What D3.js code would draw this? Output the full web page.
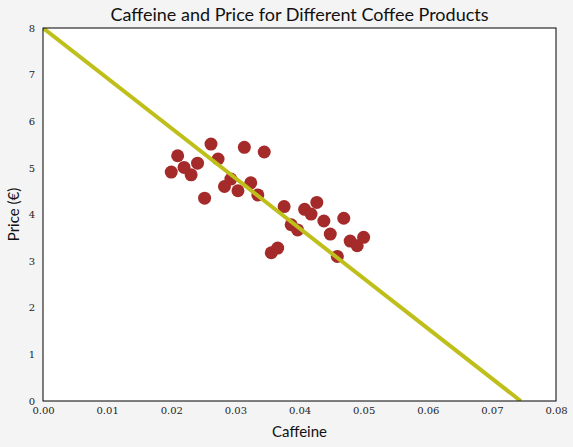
<!DOCTYPE html><html><head><meta charset="utf-8"><script src="https://d3js.org/d3.v7.min.js"></script>
<style>body{margin:0;background:#f4f4f4}</style></head><body><svg id="c" width="573" height="447"></svg>
<script>
const caffeine=[0.0200,0.0210,0.0220,0.0231,0.0241,0.0252,0.0262,0.0273,0.0283,0.0293,0.0304,0.0314,0.0324,0.0335,0.0345,0.0356,0.0366,0.0376,0.0387,0.0397,0.0408,0.0418,0.0427,0.0438,0.0448,0.0459,0.0469,0.0479,0.0490,0.0500];
const price=[4.91,5.26,5.01,4.85,5.10,4.35,5.51,5.19,4.60,4.76,4.51,5.44,4.68,4.42,5.34,3.18,3.28,4.17,3.78,3.67,4.11,4.01,4.26,3.86,3.58,3.10,3.92,3.43,3.33,3.51];
const fitX=[0,0.0745], fitY=[8,0];
const xTicks=[0,0.01,0.02,0.03,0.04,0.05,0.06,0.07,0.08], yTicks=[0,1,2,3,4,5,6,7,8];
const svg=d3.select("#c"), L=43,R=556,T=28,B=401;
const x=d3.scaleLinear().domain([0,0.08]).range([L,R]);
const y=d3.scaleLinear().domain([0,8]).range([B,T]);
svg.append("rect").attr("x",L).attr("y",T).attr("width",R-L).attr("height",B-T).attr("fill","#fff");
svg.append("defs").append("clipPath").attr("id","cp").append("rect").attr("x",L).attr("y",T).attr("width",R-L).attr("height",B-T);
const ga=svg.append("g").attr("transform",`translate(0,${B})`).call(d3.axisBottom(x).tickValues(xTicks).tickFormat(d3.format(".2f")).tickSize(0).tickPadding(6));
const gb=svg.append("g").attr("transform",`translate(${L},0)`).call(d3.axisLeft(y).tickValues(yTicks).tickFormat(d3.format("d")).tickSize(0).tickPadding(8));
[ga,gb].forEach(g=>{g.select(".domain").remove();g.selectAll("text").attr("font-family","DejaVu Serif").attr("font-size",10).attr("fill","#222");});
const g=svg.append("g").attr("clip-path","url(#cp)");
g.selectAll("circle").data(caffeine).join("circle").attr("cx",d=>x(d)).attr("cy",(d,i)=>y(price[i])).attr("r",6.5).attr("fill","#a52a2a");
g.append("line").attr("x1",x(fitX[0])).attr("y1",y(fitY[0])).attr("x2",x(fitX[1])).attr("y2",y(fitY[1])).attr("stroke","#bfbf1b").attr("stroke-width",4);
svg.append("rect").attr("x",L).attr("y",T).attr("width",R-L).attr("height",B-T).attr("fill","none").attr("stroke","#000").attr("stroke-width",1);
svg.append("text").attr("x",(L+R)/2).attr("y",21).attr("text-anchor","middle").attr("font-family","Lato").attr("font-size",18).attr("fill","#111").text("Caffeine and Price for Different Coffee Products");
svg.append("text").attr("x",(L+R)/2).attr("y",437).attr("text-anchor","middle").attr("font-family","Lato").attr("font-size",15).attr("fill","#111").text("Caffeine");
svg.append("text").attr("transform",`translate(19,${(T+B)/2}) rotate(-90)`).attr("text-anchor","middle").attr("font-family","Lato").attr("font-size",15).attr("fill","#111").text("Price (€)");
</script></body></html>
